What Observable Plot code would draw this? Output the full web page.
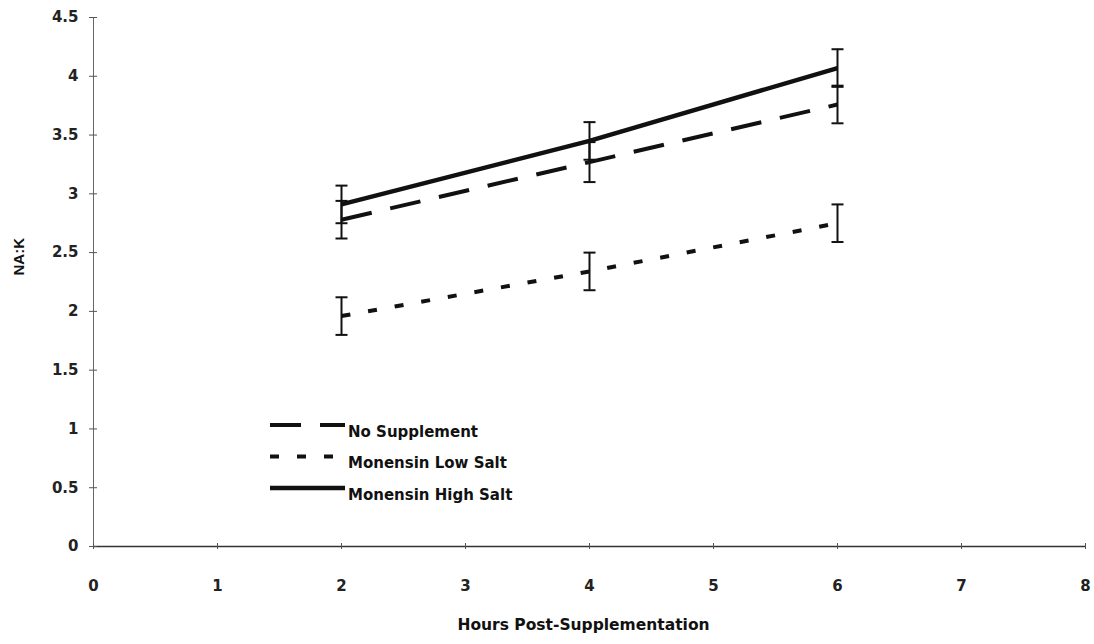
<!DOCTYPE html>
<html>
<head>
<meta charset="utf-8">
<script src="https://cdn.jsdelivr.net/npm/d3@7"></script>
<script src="https://cdn.jsdelivr.net/npm/@observablehq/plot@0.6"></script>
<style>
  html, body { margin: 0; padding: 0; background: #fff; }
  #chart { position: relative; width: 1094px; height: 644px; overflow: hidden; }
  .legend-text {
    position: absolute;
    font-family: "DejaVu Sans", sans-serif;
    font-weight: bold;
    font-size: 15px;
    color: #111;
    white-space: nowrap;
    transform: translateY(-50%);
  }
</style>
</head>
<body>
<div id="chart"></div>
<script>
// Na:K ratio after supplementation, three treatments, mean ± SE
const hours = [2, 4, 6];
const seriesNames = ["No Supplement", "Monensin Low Salt", "Monensin High Salt"];
const noSupplement = [2.78, 3.27, 3.76];
const noSupplementSE = [0.16, 0.17, 0.16];
const lowSalt = [1.96, 2.34, 2.75];
const lowSaltSE = [0.16, 0.16, 0.16];
const highSalt = [2.91, 3.45, 4.07];
const highSaltSE = [0.16, 0.16, 0.16];
const xTicks = [0, 1, 2, 3, 4, 5, 6, 7, 8];
const yTicks = [0, 0.5, 1, 1.5, 2, 2.5, 3, 3.5, 4, 4.5];
const xLabel = "Hours Post-Supplementation";
const yLabel = "NA:K";

// line styles per treatment
const lineStyle = {
  "No Supplement": {dash: "31,19", width: 4},
  "Monensin Low Salt": {dash: "9,18", width: 4},
  "Monensin High Salt": {dash: null, width: 4.5}
};

const values = [noSupplement, lowSalt, highSalt];
const errors = [noSupplementSE, lowSaltSE, highSaltSE];
const rows = [];
seriesNames.forEach((name, i) => {
  hours.forEach((h, j) => rows.push({series: name, hours: h, value: values[i][j], se: errors[i][j]}));
});

// horizontal cap for the error bars
const capSymbol = {
  draw(context, size) {
    const r = Math.sqrt(size / Math.PI);
    context.moveTo(-r, 0);
    context.lineTo(r, 0);
  }
};

const ink = "#111";
const plainNumber = d => String(d);

const plot = Plot.plot({
  width: 1094,
  height: 644,
  marginTop: 17,
  marginBottom: 98,
  marginLeft: 93,
  marginRight: 9,
  style: {fontFamily: "'DejaVu Sans', sans-serif", fontSize: "15px", fontWeight: "bold", color: "#222", background: "#fff"},
  x: {domain: [0, 8]},
  y: {domain: [0, 4.5]},
  marks: [
    Plot.ruleX([0], {stroke: "#666", strokeWidth: 1}),
    Plot.ruleY([0], {stroke: "#333", strokeWidth: 1.5}),
    Plot.axisY({ticks: yTicks, tickFormat: plainNumber, tickSize: 8, dx: 4, tickPadding: 11, label: null, stroke: "#555"}),
    Plot.axisX({ticks: xTicks, tickFormat: plainNumber, tickSize: 6, dy: -3, tickPadding: 31, label: null, stroke: "#555"}),
    Plot.ruleX(rows, {x: "hours", y1: d => d.value - d.se, y2: d => d.value + d.se, stroke: ink, strokeWidth: 2}),
    Plot.dot(rows, {x: "hours", y: d => d.value + d.se, symbol: capSymbol, r: 6, stroke: ink, strokeWidth: 2, fill: "none"}),
    Plot.dot(rows, {x: "hours", y: d => d.value - d.se, symbol: capSymbol, r: 6, stroke: ink, strokeWidth: 2, fill: "none"}),
    ...seriesNames.map(name => Plot.line(rows.filter(d => d.series === name), {
      x: "hours",
      y: "value",
      stroke: ink,
      strokeWidth: lineStyle[name].width,
      strokeDasharray: lineStyle[name].dash,
      strokeLinecap: "butt"
    })),
    Plot.text([yLabel], {frameAnchor: "left", text: d => d, rotate: -90, dx: -74.5, dy: -6.5,
      fontFamily: "'Liberation Sans', Arial, sans-serif", fontSize: 15, fontWeight: "bold", fill: ink}),
    Plot.text([xLabel], {frameAnchor: "bottom", text: d => d, dx: -6, dy: 79, lineAnchor: "middle",
      fontFamily: "'DejaVu Sans', sans-serif", fontSize: 15.5, fontWeight: "bold", fill: ink})
  ]
});

const chart = document.getElementById("chart");
chart.appendChild(plot);

// legend drawn over the lower-left of the plot area
const svgNS = "http://www.w3.org/2000/svg";
const legendSvg = document.createElementNS(svgNS, "svg");
legendSvg.setAttribute("width", 1094);
legendSvg.setAttribute("height", 644);
legendSvg.style.position = "absolute";
legendSvg.style.left = "0";
legendSvg.style.top = "0";
legendSvg.style.pointerEvents = "none";
chart.appendChild(legendSvg);

const legendLeft = 270, legendRight = 345, legendTop = 425, rowGap = 31.5;
seriesNames.forEach((name, i) => {
  const y = legendTop + i * rowGap;
  const line = document.createElementNS(svgNS, "line");
  line.setAttribute("x1", legendLeft);
  line.setAttribute("x2", legendRight);
  line.setAttribute("y1", y);
  line.setAttribute("y2", y);
  line.setAttribute("stroke", ink);
  line.setAttribute("stroke-width", lineStyle[name].width);
  if (lineStyle[name].dash) line.setAttribute("stroke-dasharray", lineStyle[name].dash);
  legendSvg.appendChild(line);

  const label = document.createElement("div");
  label.className = "legend-text";
  label.textContent = name;
  label.style.left = (legendRight + 3) + "px";
  label.style.top = (y + 6.5) + "px";
  chart.appendChild(label);
});
</script>
</body>
</html>
